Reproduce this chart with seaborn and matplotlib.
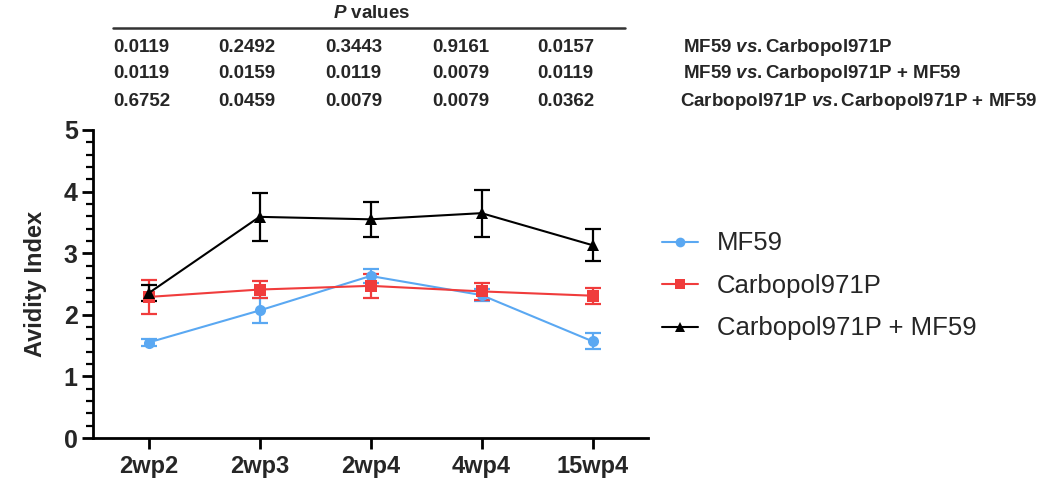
import numpy as np
import pandas as pd
import matplotlib
matplotlib.use("Agg")
import matplotlib.pyplot as plt
from matplotlib.lines import Line2D
from matplotlib.ticker import MultipleLocator
import seaborn as sns

# ---------------- data ----------------
timepoints = ["2wp2", "2wp3", "2wp4", "4wp4", "15wp4"]
groups = ["MF59", "Carbopol971P", "Carbopol971P + MF59"]

mf59_mean = [1.55, 2.07, 2.63, 2.32, 1.57]
mf59_err = [0.06, 0.20, 0.11, 0.10, 0.13]
carb_mean = [2.29, 2.41, 2.47, 2.38, 2.31]
carb_err = [0.27, 0.14, 0.19, 0.14, 0.13]
combo_mean = [2.35, 3.59, 3.55, 3.65, 3.13]
combo_err = [0.13, 0.39, 0.28, 0.38, 0.26]

p_row_labels = ["MF59 $\\it{vs.}$Carbopol971P",
                "MF59 $\\it{vs.}$Carbopol971P + MF59",
                "Carbopol971P $\\it{vs.}$Carbopol971P + MF59"]
p_mf59_vs_carb = ["0.0119", "0.2492", "0.3443", "0.9161", "0.0157"]
p_mf59_vs_combo = ["0.0119", "0.0159", "0.0119", "0.0079", "0.0119"]
p_carb_vs_combo = ["0.6752", "0.0459", "0.0079", "0.0079", "0.0362"]

colors = {"MF59": "#5AA8F2", "Carbopol971P": "#F03C3C",
          "Carbopol971P + MF59": "#000000"}
markers = {"MF59": "o", "Carbopol971P": "s", "Carbopol971P + MF59": "^"}

df = pd.DataFrame({
    "Timepoint": timepoints * 3,
    "Group": [groups[0]] * 5 + [groups[1]] * 5 + [groups[2]] * 5,
    "Avidity": mf59_mean + carb_mean + combo_mean,
    "Err": mf59_err + carb_err + combo_err,
})
df["pos"] = df["Timepoint"].map({t: i for i, t in enumerate(timepoints)})

# ---------------- style ----------------
sns.set_style("ticks")
plt.rcParams["font.family"] = ["Liberation Sans", "DejaVu Sans"]
plt.rcParams["mathtext.fontset"] = "custom"
plt.rcParams["mathtext.it"] = "Liberation Sans:italic:bold"
plt.rcParams["mathtext.rm"] = "Liberation Sans:bold"
plt.rcParams["mathtext.bf"] = "Liberation Sans:bold"

fig = plt.figure(figsize=(10.5, 4.8), dpi=100)
ax = fig.add_axes([93 / 1050, 1 - 438 / 480, (648 - 93) / 1050, (438 - 130) / 480])

for g in groups:
    sub = df[df["Group"] == g]
    ax.errorbar(sub["pos"], sub["Avidity"], yerr=sub["Err"], fmt="none",
                ecolor=colors[g], elinewidth=1.6, capsize=6, capthick=1.6,
                zorder=2)

sns.lineplot(data=df, x="pos", y="Avidity", hue="Group", style="Group",
             hue_order=groups, style_order=groups,
             palette=colors, markers=markers, dashes=False,
             markersize=8, markeredgewidth=0, linewidth=1.5,
             ax=ax, legend=False, zorder=3)

ax.set_xlim(-0.5, 4.5)
ax.set_ylim(0, 5)
ax.set_xticks(range(len(timepoints)))
ax.set_xticklabels(timepoints, fontsize=17, fontweight="bold")
ax.set_yticks(range(0, 6))
ax.set_yticklabels([str(i) for i in range(0, 6)], fontsize=18, fontweight="bold")
ax.yaxis.set_minor_locator(MultipleLocator(0.2))
ax.set_xlabel("")
ax.set_ylabel("Avidity Index", fontsize=17, fontweight="bold", labelpad=12)
for s in ["top", "right"]:
    ax.spines[s].set_visible(False)
for s in ["left", "bottom"]:
    ax.spines[s].set_linewidth(2)
    ax.spines[s].set_color("black")
ax.tick_params(axis="both", which="major", length=8, width=2, color="black", pad=3)
ax.tick_params(axis="y", which="minor", length=5, width=1.6, color="black")
ax.tick_params(axis="x", which="major", pad=4)

# legend
handles = [Line2D([0], [0], color=colors[g], marker=markers[g], markersize=7,
                  markeredgewidth=0, linewidth=1.5) for g in groups]
fig.legend(handles, groups, loc="center left",
           bbox_to_anchor=(662 / 1050, 1 - 286 / 480), frameon=False,
           fontsize=18.5, handlelength=1.4, handletextpad=0.75,
           labelspacing=0.72, borderpad=0, borderaxespad=0)

# P-value table
col_x = [113, 218, 325, 432, 537]
row_y = [47, 74, 102]
fig.text(372 / 1050, 1 - 13 / 480, "$\\it{P}$ values", ha="center", va="center",
         fontsize=13.5, fontweight="bold")
fig.add_artist(Line2D([113 / 1050, 625 / 1050], [1 - 28 / 480, 1 - 28 / 480],
                      color="#333333", linewidth=1.8))
for r, vals in enumerate([p_mf59_vs_carb, p_mf59_vs_combo, p_carb_vs_combo]):
    for c, v in enumerate(vals):
        fig.text(col_x[c] / 1050, 1 - row_y[r] / 480, v, ha="left", va="center",
                 fontsize=13.5, fontweight="bold")
    fig.text((683 if r < 2 else 680) / 1050, 1 - row_y[r] / 480, p_row_labels[r],
             ha="left", va="center", fontsize=13.5, fontweight="bold")

fig.savefig("out.png", dpi=100)
